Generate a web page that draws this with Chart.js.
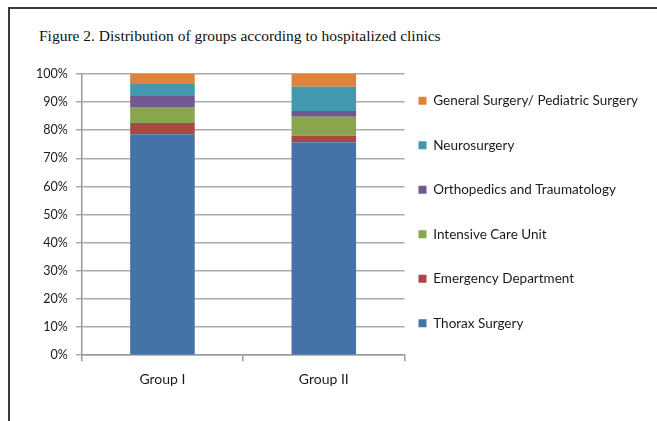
<!DOCTYPE html>
<html>
<head>
<meta charset="utf-8">
<script src="https://cdn.jsdelivr.net/npm/chart.js@4.4.0/dist/chart.umd.min.js"></script>
<style>
  html, body { margin: 0; padding: 0; background: #fff; overflow: hidden; }
  body { width: 657px; height: 421px; position: relative; }
  .frame { position: absolute; left: 8px; top: 7px; width: 700px; height: 500px;
           border-left: 2px solid #3a3a3a; border-top: 2px solid #3a3a3a; }
  .title { position: absolute; left: 39px; top: 27px; font-family: "Liberation Serif", serif;
           font-size: 15.5px; color: #111; white-space: nowrap; }
  .wrap { position: absolute; left: 0; top: 0; width: 700px; height: 421px; }
</style>
</head>
<body>
<div class="frame"></div>
<div class="title">Figure 2. Distribution of groups according to hospitalized clinics</div>
<div class="wrap"><canvas id="clinicChart" width="700" height="421"></canvas></div>
<script>
// share of each group (%) by hospitalized clinic
const groups = ["Group I", "Group II"];
const thorax = [78.6, 75.7];
const emergency = [4.0, 2.3];
const intensiveCare = [5.7, 6.8];
const orthopedics = [3.9, 2.0];
const neurosurgery = [4.2, 8.7];
const generalSurgery = [3.6, 4.5];
const yTicks = [0, 10, 20, 30, 40, 50, 60, 70, 80, 90, 100];

const font = "Lato, 'Open Sans', sans-serif";

// legend sits closer to the plot than its own padding would allow
const legendNudge = {
  id: 'legendNudge',
  afterLayout(chart) {
    chart.legend.left -= 17;
    chart.legend.right -= 17;
    chart.legend.top -= 11;
    chart.legend.bottom -= 11;
  }
};

const ctx = document.getElementById('clinicChart').getContext('2d');
const clinicChart = new Chart(ctx, {
  type: 'bar',
  data: {
    labels: groups,
    datasets: [
      { label: 'Thorax Surgery', data: thorax, backgroundColor: '#4572A7' },
      { label: 'Emergency Department', data: emergency, backgroundColor: '#AA4643' },
      { label: 'Intensive Care Unit', data: intensiveCare, backgroundColor: '#89A54E' },
      { label: 'Orthopedics and Traumatology', data: orthopedics, backgroundColor: '#71588F' },
      { label: 'Neurosurgery', data: neurosurgery, backgroundColor: '#4198AF' },
      { label: 'General Surgery/ Pediatric Surgery', data: generalSurgery, backgroundColor: '#DB843D' }
    ]
  },
  plugins: [legendNudge],
  options: {
    responsive: false,
    animation: false,
    maintainAspectRatio: false,
    datasets: { bar: { barPercentage: 0.8, categoryPercentage: 0.5 } },
    layout: { padding: { top: 74, left: 28, bottom: 23, right: 35 } },
    plugins: {
      tooltip: { enabled: false },
      legend: {
        position: 'right',
        align: 'start',
        reverse: true,
        maxWidth: 320,
        labels: {
          boxWidth: 8,
          boxHeight: 8,
          padding: 31,
          color: '#1a1a1a',
          font: { family: font, size: 13.5 }
        }
      }
    },
    scales: {
      x: {
        stacked: true,
        border: { color: '#9a9a9a', width: 1.5 },
        grid: { offset: true, drawOnChartArea: false, drawTicks: true, tickLength: 6, color: '#9a9a9a', lineWidth: 1.5 },
        ticks: { color: '#1a1a1a', padding: 10, font: { family: font, size: 14 } }
      },
      y: {
        stacked: true,
        min: 0,
        max: 100,
        afterBuildTicks: (axis) => { axis.ticks = yTicks.map(v => ({ value: v })); },
        border: { color: '#9a9a9a', width: 1.5 },
        grid: { color: '#ababab', lineWidth: 1.5, tickLength: 6 },
        ticks: { color: '#1a1a1a', padding: 8, font: { family: font, size: 12.5 }, callback: (v) => v + '%' }
      }
    }
  }
});
</script>
</body>
</html>
